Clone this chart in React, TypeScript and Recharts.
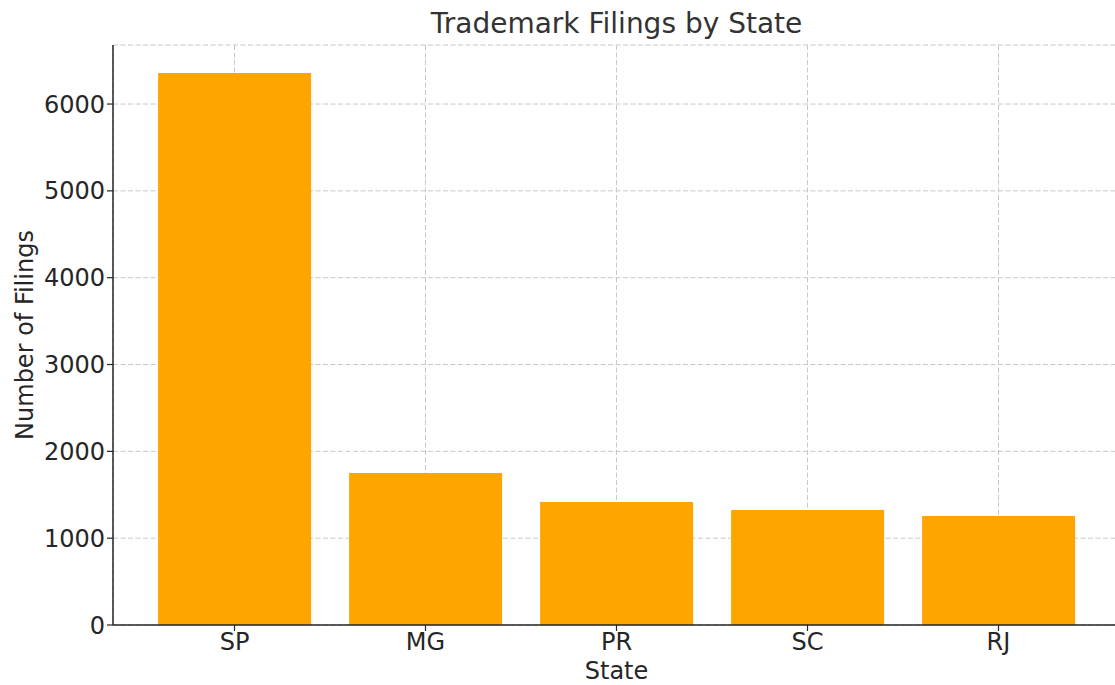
import React from 'react';
import { BarChart, Bar, XAxis, YAxis, CartesianGrid, Label } from 'recharts';

const states = ['SP', 'MG', 'PR', 'SC', 'RJ'];
const filings = [6357, 1750, 1417, 1324, 1255];
const yTicks = [0, 1000, 2000, 3000, 4000, 5000, 6000];

const data = states.map((state, i) => ({ state, filings: filings[i] }));

const font = 'DejaVu Sans, sans-serif';
const textColor = '#262626';

const App: React.FC = () => {
  return (
    <div style={{ width: 1115, height: 685, overflow: 'hidden', position: 'relative', fontFamily: font }}>
      <style>{'body { margin: 0; }'}</style>
      <div
        style={{
          position: 'absolute',
          top: 0,
          left: 113,
          width: 1007,
          textAlign: 'center',
          fontSize: 28,
          color: '#333333',
          lineHeight: '48px',
        }}
      >
        Trademark Filings by State
      </div>
      <BarChart
        width={1125}
        height={685}
        data={data}
        margin={{ top: 45, right: 5, bottom: 0, left: 0 }}
        barCategoryGap="10%"
      >
        <XAxis
          dataKey="state"
          height={60}
          padding={{ left: 26, right: 26 }}
          tick={{ fill: textColor, fontSize: 24, fontFamily: font }}
          tickSize={6}
          axisLine={{ stroke: '#262626', strokeWidth: 1.5 }}
          tickLine={{ stroke: '#262626', strokeWidth: 1.2 }}
        >
          <Label value="State" position="insideBottom" offset={6} fill={textColor} fontSize={24} fontFamily={font} />
        </XAxis>
        <YAxis
          width={113}
          domain={[0, 6680]}
          ticks={yTicks}
          allowDataOverflow
          tick={{ fill: textColor, fontSize: 24, fontFamily: font }}
          tickSize={6}
          axisLine={{ stroke: '#262626', strokeWidth: 1.5 }}
          tickLine={{ stroke: '#262626', strokeWidth: 1.2 }}
        >
          <Label
            value="Number of Filings"
            angle={-90}
            position="insideLeft"
            offset={24}
            style={{ textAnchor: 'middle' }}
            fill={textColor}
            fontSize={24}
            fontFamily={font}
          />
        </YAxis>
        <Bar dataKey="filings" fill="#FFA500" isAnimationActive={false} />
        <CartesianGrid stroke="#c8c8c8" strokeDasharray="5 2.5" strokeWidth={1} />
      </BarChart>
    </div>
  );
};

export default App;
